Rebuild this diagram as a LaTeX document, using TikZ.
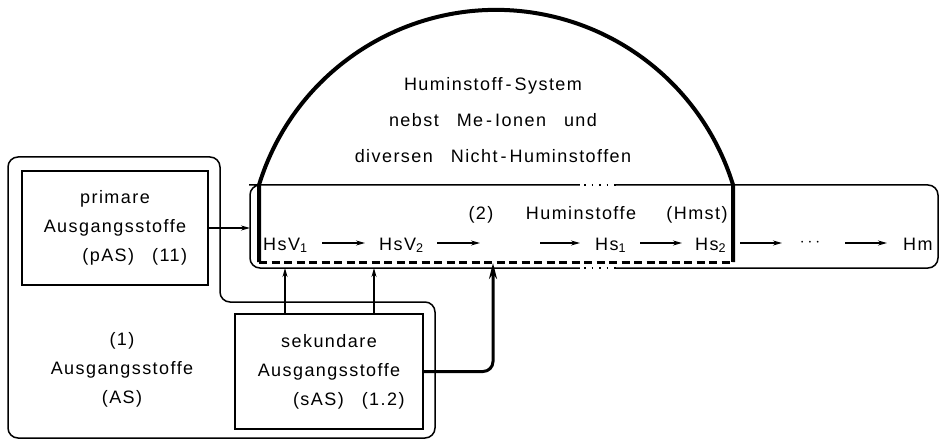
\documentclass[tikz,border=0pt]{standalone}
\usepackage{fontspec}
\setmainfont{Liberation Sans}[LetterSpace=8]
\usetikzlibrary{arrows.meta}
\begin{document}
\begin{tikzpicture}[x=1pt,y=-1pt,
  thinline/.style={line width=1.5pt},
  heavy/.style={line width=4pt},
  txt/.style={font=\fontsize{18}{29}\selectfont, align=center, inner sep=0pt},
  box/.style={draw, thinline, txt, minimum width=186pt, minimum height=114pt},
  arr/.style={line width=1.3pt, -{Stealth[length=9pt,width=5pt]}},
  bigarr/.style={line width=3pt, -{Stealth[length=16pt,width=8pt]}}
]
\useasboundingbox (0,0) rectangle (943,441);

% outer AS region
\draw[thinline, rounded corners=10pt] (8,157) -- (220,157) -- (220,302) -- (435,302) -- (435,438) -- (8,438) -- cycle;
\node[txt] (as) at (122,370) {(1)\\Ausgangsstoffe\\(AS)};

% boxes
\node[box] (pas) at (115,228) {primare\\Ausgangsstoffe\\\hspace*{2.2em}(pAS)\quad(11)};
\node[box, minimum width=188pt, minimum height=115pt] (sas) at (329,371.5) {sekundare\\Ausgangsstoffe\\\hspace*{2.2em}(sAS)\quad(1.2)};

% Huminstoffe box
\draw[thinline, rounded corners=10pt] (259,185) -- (938,185) -- (938,268) -- (250,268) -- (250,185) -- cycle;
\fill[white] (580,182) rectangle (616,188);
\fill[white] (580,265) rectangle (616,271);
\draw[line width=1.5pt, dash pattern=on 1.5pt off 6pt] (584,185) -- (616,185);
\draw[line width=1.5pt, dash pattern=on 1.5pt off 6pt] (584,268) -- (616,268);

% dome (circular arc, centre (496,258), radius 248)
\draw[heavy] (259,262) -- (259,185) arc[start angle=197.1, end angle=342.9, radius=248] -- (733,262);
\draw[line width=3pt, dash pattern=on 8pt off 4.5pt] (259,262) -- (733,262);

\node[txt, font=\fontsize{18}{36}\selectfont] (dome) at (493,120) {Huminstoff\,-\,System\\nebst\quad Me\,-\,Ionen\quad und\\diversen\quad Nicht\,-\,Huminstoffen};

\node[txt, anchor=base] (n2) at (481,219) {(2)};
\node[txt, anchor=base] (hmst) at (581,219) {Huminstoffe};
\node[txt, anchor=base] (hmstb) at (697,219) {(Hmst)};

% chain
\node[txt, anchor=base west] (hsv1) at (263,250) {HsV\textsubscript{1}};
\node[txt, anchor=base west] (hsv2) at (379,250) {HsV\textsubscript{2}};
\coordinate (gapL) at (480,243);
\coordinate (gapR) at (540,243);
\node[txt, anchor=base west] (hs1) at (595,250) {Hs\textsubscript{1}};
\node[txt, anchor=base west] (hs2) at (695,250) {Hs\textsubscript{2}};
\node[txt] (dots) at (810,243) {$\cdots$};
\node[txt, anchor=base west] (hm) at (903,250) {Hm};

\draw[arr] (322,243) -- (365,243);
\draw[arr] (437,243) -- (gapL);
\draw[arr] (gapR) -- (580,243);
\draw[arr] (640,243) -- (682,243);
\draw[arr] (740,243) -- (782,243);
\draw[arr] (845,243) -- (887,243);

% inputs
\coordinate (hsleft) at (250,228);
\draw[arr] (pas.east) -- (hsleft);
\draw[arr] (sas.north -| 285,0) -- (285,268);
\draw[arr] (sas.north -| 374,0) -- (374,268);
\draw[bigarr, rounded corners=10pt] (sas.east) -- (493,371.5) -- (493,263);
\end{tikzpicture}
\end{document}
